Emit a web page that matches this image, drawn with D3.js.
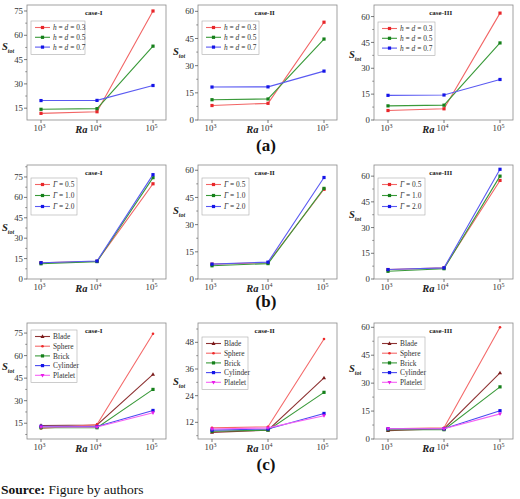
<!DOCTYPE html>
<html>
<head>
<meta charset="utf-8">
<script src="https://cdn.jsdelivr.net/npm/d3@7"></script>
<style>
  body { margin: 0; background: #fff; }
</style>
</head>
<body>
<div id="chart"></div>
<script>
// x values and tick exponents
const raValues = [1e3, 1e4, 1e5];
const raExponents = ["3", "4", "5"];

const caseTitles = ["case-I", "case-II", "case-III"];
const rowLetters = ["(a)", "(b)", "(c)"];

// legend labels
const hdValues = ["0.3", "0.5", "0.7"];
const gammaValues = ["0.5", "1.0", "2.0"];
const shapeNames = ["Blade", "Sphere", "Brick", "Cylinder", "Platelet"];

// row (a): h = d
const hdCase1 = [[11.8, 12.8, 75], [14.3, 14.7, 53.3], [19.7, 19.8, 29]];
const hdCase2 = [[8, 9.2, 54], [11.2, 11.6, 44.7], [18.2, 18.3, 27]];
const hdCase3 = [[5.5, 6.5, 62], [8.2, 8.6, 44.7], [14.3, 14.5, 23.5]];

// row (b): Gamma
const gammaCase1 = [[12, 13, 70], [11.2, 12.8, 74.5], [12, 13.2, 76.7]];
const gammaCase2 = [[8.2, 9, 49.5], [7.3, 8.5, 50], [8.2, 9.3, 56]];
const gammaCase3 = [[5.5, 6.5, 57.5], [4.5, 6, 60], [5.5, 6.5, 64]];

// row (c): nanoparticle shape
const shapeCase1 = [[13.5, 13.8, 47.5], [11.5, 14.2, 74.5], [12, 12, 37.5], [13, 12.8, 23.5], [12.5, 12.5, 22]];
const shapeCase2 = [[7.5, 8.5, 32], [9.5, 10, 49.5], [8, 8.5, 25.5], [8.5, 9, 16], [9, 9.5, 15]];
const shapeCase3 = [[4.5, 5.5, 35.5], [5.5, 6, 60], [5, 5, 28], [5.5, 5.5, 15.2], [5.5, 5.5, 13.5]];

// y axis ranges and ticks per panel
const yDomains = [
  [[7.7, 78.7], [0, 63.5], [0, 66.7]],
  [[0, 83.8], [0, 62.9], [0, 66.5]],
  [[4.5, 81.7], [4.5, 56.7], [0, 62.3]]
];
const yTicks = [
  [[15, 30, 45, 60, 75], [0, 15, 30, 45, 60], [0, 15, 30, 45, 60]],
  [[0, 15, 30, 45, 60, 75], [0, 15, 30, 45, 60], [0, 15, 30, 45, 60]],
  [[15, 30, 45, 60, 75], [12, 24, 36, 48], [0, 15, 30, 45, 60]]
];

const width = 520, height = 499;
const serif = "'Liberation Serif', 'Times New Roman', Tinos, 'DejaVu Serif', serif";

const svg = d3.select("#chart").append("svg")
  .attr("width", width).attr("height", height)
  .attr("viewBox", `0 0 ${width} ${height}`)
  .attr("font-family", serif)
  .style("display", "block");

// layout
const colX = [[27, 166], [198, 337], [374, 513]];
const rowY = [[5, 120], [165, 279], [323, 439]];
const legendDy = [[16, 16, 17], [13, 13, 13], [7, 14, 14]];
const legendW = [[54, 57, 57], [46, 47, 47], [46, 46, 47]];
// y-axis label sits between two ticks (value on the panel's y scale)
const yLabelAt = [[52.5, 37.5, 37.5], [37.5, 37.5, 37.5], [52.5, 30, 37.5]];
const letterBase = [151, 307, 470];

const rgbStyles = [
  { line: "#f26565", mark: "#e8262a", shape: "square" },
  { line: "#3a9a3a", mark: "#15801a", shape: "square" },
  { line: "#5a5af2", mark: "#1515e8", shape: "square" }
];
const shapeStyles = [
  { line: "#8e3434", mark: "#7a1a1a", shape: "up" },
  { line: "#f46a6a", mark: "#ee2a2a", shape: "dot" },
  { line: "#3a9a3a", mark: "#15801a", shape: "square" },
  { line: "#4a4af0", mark: "#1515e8", shape: "square" },
  { line: "#f560f5", mark: "#e81ee8", shape: "down" }
];

const rows = [
  { series: [hdCase1, hdCase2, hdCase3], labels: hdValues, kind: "hd", styles: rgbStyles },
  { series: [gammaCase1, gammaCase2, gammaCase3], labels: gammaValues, kind: "gamma", styles: rgbStyles },
  { series: [shapeCase1, shapeCase2, shapeCase3], labels: shapeNames, kind: "shape", styles: shapeStyles }
];

function drawMarker(g, x, y, shape, color) {
  if (shape === "square") {
    g.append("rect").attr("x", x - 1.6).attr("y", y - 1.6).attr("width", 3.2).attr("height", 3.2).attr("fill", color);
  } else if (shape === "dot") {
    g.append("circle").attr("cx", x).attr("cy", y).attr("r", 1.3).attr("fill", color);
  } else if (shape === "up") {
    g.append("path").attr("d", `M${x},${y - 2.2}L${x + 2},${y + 1.4}L${x - 2},${y + 1.4}Z`).attr("fill", color);
  } else {
    g.append("path").attr("d", `M${x},${y + 2.2}L${x + 2},${y - 1.4}L${x - 2},${y - 1.4}Z`).attr("fill", color);
  }
}

function legendText(t, kind, label) {
  if (kind === "hd") {
    t.append("tspan").attr("font-style", "italic").text("h");
    t.append("tspan").text(" = ");
    t.append("tspan").attr("font-style", "italic").text("d");
    t.append("tspan").text(" = " + label);
  } else if (kind === "gamma") {
    t.append("tspan").attr("font-style", "italic").text("Γ");
    t.append("tspan").text(" = " + label);
  } else {
    t.text(label);
  }
}

rows.forEach((row, r) => {
  row.series.forEach((data, c) => {
    const [x0, x1] = colX[c];
    const [y0, y1] = rowY[r];
    const g = svg.append("g");

    const x = d3.scaleLog().domain([1e3, 1e5]).range([x0 + 14, x1 - 13]);
    const y = d3.scaleLinear().domain(yDomains[r][c]).range([y1, y0]);

    // frame
    g.append("rect")
      .attr("x", x0).attr("y", y0)
      .attr("width", x1 - x0).attr("height", y1 - y0)
      .attr("fill", "none").attr("stroke", "#8a8a8a").attr("stroke-width", 0.8);

    // y ticks
    const ticks = yTicks[r][c];
    const step = ticks[1] - ticks[0];
    const minor = [];
    for (let v = ticks[0] - step / 2; v <= yDomains[r][c][1]; v += step) {
      if (v >= yDomains[r][c][0]) minor.push(v);
    }
    g.selectAll(".ymin").data(minor).enter().append("line")
      .attr("x1", x0 - 1.8).attr("x2", x0)
      .attr("y1", d => y(d)).attr("y2", d => y(d))
      .attr("stroke", "#555").attr("stroke-width", 0.6);
    g.selectAll(".ymaj").data(ticks).enter().append("line")
      .attr("x1", x0 - 3).attr("x2", x0)
      .attr("y1", d => y(d)).attr("y2", d => y(d))
      .attr("stroke", "#444").attr("stroke-width", 0.7);
    g.selectAll(".ylab").data(ticks).enter().append("text")
      .attr("x", x0 - 4).attr("y", d => y(d) + 3.1)
      .attr("text-anchor", "end").attr("font-size", 8.8).attr("fill", "#333")
      .text(d => d);

    // x ticks
    g.selectAll(".xmaj").data(raValues).enter().append("line")
      .attr("x1", d => x(d)).attr("x2", d => x(d))
      .attr("y1", y1).attr("y2", y1 + 3)
      .attr("stroke", "#444").attr("stroke-width", 0.7);
    raValues.forEach((v, i) => {
      const t = g.append("text")
        .attr("x", x(v) - 1.5).attr("y", y1 + 11)
        .attr("text-anchor", "middle").attr("font-size", 8.8).attr("fill", "#333");
      t.append("tspan").text("10");
      t.append("tspan").attr("dy", -3.3).attr("font-size", 6).text(raExponents[i]);
    });

    // axis labels
    g.append("text")
      .attr("x", x(1e3) + (x(1e4) - x(1e3)) * 0.72).attr("y", y1 + 13)
      .attr("text-anchor", "middle").attr("font-size", 10.5)
      .attr("font-weight", "bold").attr("font-style", "italic").attr("fill", "#222")
      .text("Ra");
    const yl = g.append("text")
      .attr("x", x0 - 25).attr("y", y(yLabelAt[r][c]) + 3)
      .attr("font-size", 10.5).attr("font-weight", "bold").attr("font-style", "italic").attr("fill", "#222");
    yl.append("tspan").text("S");
    yl.append("tspan").attr("dy", 3).attr("font-size", 6).text("tot");

    // title
    g.append("text")
      .attr("x", x0 + (x1 - x0) * 0.48).attr("y", y0 + 10)
      .attr("text-anchor", "middle").attr("font-size", 7).attr("font-weight", "bold").attr("fill", "#222")
      .text(caseTitles[c]);

    // lines and markers
    const line = d3.line().x((d, i) => x(raValues[i])).y(d => y(d));
    data.forEach((vals, s) => {
      const st = row.styles[s];
      g.append("path").attr("d", line(vals))
        .attr("fill", "none").attr("stroke", st.line).attr("stroke-width", 1.1);
      vals.forEach((v, i) => drawMarker(g, x(raValues[i]), y(v), st.shape, st.mark));
    });

    // legend
    const n = row.labels.length;
    const lx = x0 + 4, ly = y0 + legendDy[r][c];
    const gap = r === 2 ? 9.7 : (r === 1 ? 11 : 9.8);
    const lh = gap * n + 4;
    g.append("rect")
      .attr("x", lx).attr("y", ly)
      .attr("width", legendW[r][c]).attr("height", lh)
      .attr("fill", "#fff").attr("stroke", "#aaa").attr("stroke-width", 0.6);
    row.labels.forEach((lab, s) => {
      const st = row.styles[s];
      const cy = ly + 6.5 + s * gap;
      g.append("line").attr("x1", lx + 4).attr("x2", lx + 19)
        .attr("y1", cy).attr("y2", cy)
        .attr("stroke", st.line).attr("stroke-width", 1.1);
      drawMarker(g, lx + 11.5, cy, st.shape, st.mark);
      const t = g.append("text").attr("x", lx + 22).attr("y", cy + 2.6)
        .attr("font-size", 7.4).attr("fill", "#333");
      legendText(t, row.kind, lab);
    });
  });

  // row letter
  svg.append("text")
    .attr("x", 266).attr("y", letterBase[r])
    .attr("text-anchor", "middle").attr("font-size", 17).attr("font-weight", "bold").attr("fill", "#111")
    .text(rowLetters[r]);
});

// source note
const src = svg.append("text").attr("x", 1).attr("y", 494)
  .attr("font-size", 13.5).attr("fill", "#111");
src.append("tspan").attr("font-weight", "bold").text("Source:");
src.append("tspan").text(" Figure by authors");
</script>
</body>
</html>
